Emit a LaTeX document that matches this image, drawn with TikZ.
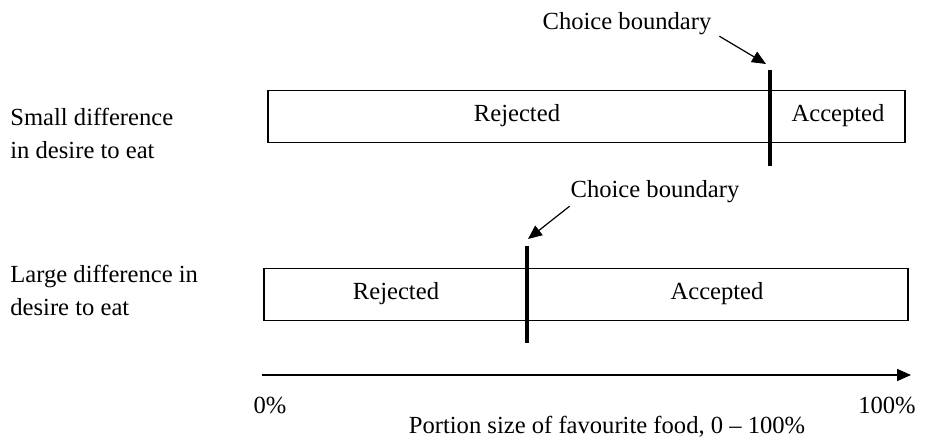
\documentclass[tikz,border=0pt]{standalone}
\usepackage{fontspec}
\setmainfont{Liberation Serif}
\usepackage{tikz}
\usetikzlibrary{arrows.meta,positioning}
\tikzset{bar node/.style={rectangle, draw, thick, inner sep=0pt}}
\tikzset{boundary line/.style={draw, line width=2pt}}
\tikzset{pointer edge/.style={draw, semithick, -{Triangle[length=7pt,width=6pt]}}}
\tikzset{axis edge/.style={draw, thick, -{Triangle[length=7pt,width=6pt]}}}
\tikzset{label text/.style={font=\fontsize{12.3}{16.5}\selectfont}}
\tikzset{row label/.style={label text, align=left, anchor=north west, inner sep=0pt}}

\begin{document}
\begin{tikzpicture}
  [x=0.5pt, y=-0.5pt]
  \useasboundingbox (0,0) rectangle (935,438);

  % small difference
  \node [row label]                                         (small)  at ( 10, 108) {Small difference\\in desire to eat};
  \node [bar node, minimum width=318.5pt, minimum height=26pt] (bar1) at (586.5, 116.5) {};
  \node [label text]                                        (rej1)   at (517, 116) {Rejected};
  \node [label text]                                        (acc1)   at (838, 116) {Accepted};
  \coordinate                                               (b1top)  at (770,  70);
  \coordinate                                               (b1bot)  at (770, 166);
  \node [label text]                                        (cb1)    at (627,  24) {Choice boundary};
  \coordinate                                               (tip1)   at (766,  64);

  \draw [boundary line] (b1top) -- (b1bot);
  \draw [pointer edge]  (cb1.south east) ++(1,-6) -- (tip1);

  % large difference
  \node [row label]                                         (large)  at ( 10, 265) {Large difference in\\desire to eat};
  \node [bar node, minimum width=322pt, minimum height=26pt]   (bar2) at (586, 294.5) {};
  \node [label text]                                        (rej2)   at (396, 294) {Rejected};
  \node [label text]                                        (acc2)   at (717, 294) {Accepted};
  \coordinate                                               (b2top)  at (527, 246);
  \coordinate                                               (b2bot)  at (527, 343);
  \node [label text]                                        (cb2)    at (655, 192) {Choice boundary};
  \coordinate                                               (tip2)   at (528, 239);

  \draw [boundary line] (b2top) -- (b2bot);
  \draw [pointer edge]  (cb2.south west) ++(6,-4) -- (tip2);

  % axis
  \coordinate                                               (ax0)    at (262, 375);
  \coordinate                                               (ax1)    at (911, 375);
  \node [label text]                                        (pct0)   at (270, 405) {0\%};
  \node [label text]                                        (pct100) at (887, 405) {100\%};
  \node [label text]                                        (title)  at (607, 427) {Portion size of favourite food, 0 -- 100\%};

  \draw [axis edge] (ax0) -- (ax1);
\end{tikzpicture}
\end{document}
